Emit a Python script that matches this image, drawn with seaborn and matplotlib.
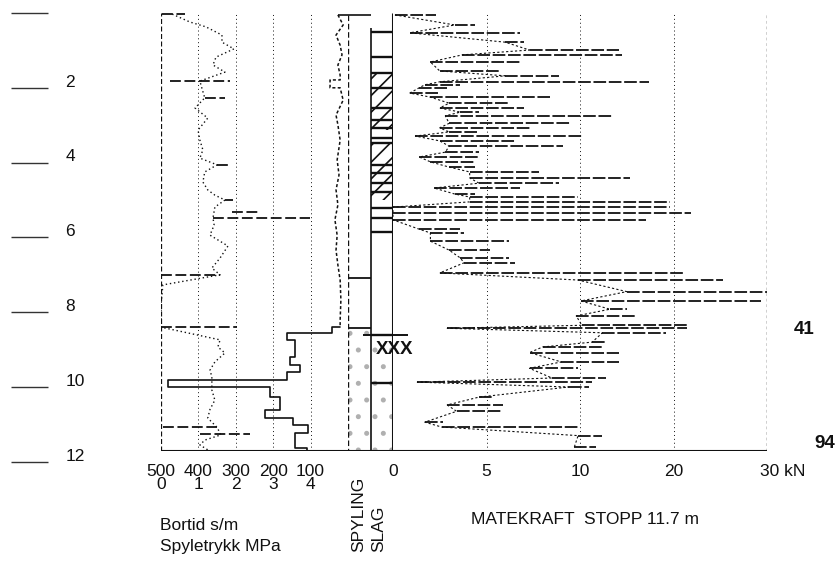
import numpy as np
import matplotlib
matplotlib.use("Agg")
import matplotlib.pyplot as plt
from matplotlib.patches import Rectangle
import seaborn as sns

# --- data read off the sounding log ---
# spyletrykk (MPa), base trace
sp_depth = [0.03, 0.24, 0.37, 0.59, 0.78, 0.96, 1.18, 1.39, 1.58, 1.82, 2.00, 2.27, 2.54, 2.81,
            3.13, 3.40, 3.66, 3.88, 4.06, 4.25, 4.52, 4.73, 4.87, 5.00, 5.19, 5.48, 5.67, 5.94,
            6.23, 6.55, 6.82, 7.00, 7.27, 7.49, 7.80, 8.40, 8.74, 8.93, 9.09, 9.33, 9.55, 9.73,
            10.08, 10.35, 10.60, 10.83, 11.08, 11.28, 11.42, 11.55, 11.68]
sp_value = [0.30, 0.77, 1.20, 1.63, 1.63, 1.95, 1.47, 1.39, 1.71, 1.04, 1.09, 1.17, 0.91, 1.25,
            0.99, 1.04, 1.12, 1.04, 1.50, 1.17, 1.12, 1.25, 1.44, 1.71, 1.44, 1.39, 1.42, 1.31,
            1.79, 1.58, 1.36, 1.58, 0.05, 0.03, 0.00, 0.00, 1.58, 1.52, 1.71, 1.44, 1.31, 1.36,
            1.36, 1.44, 1.31, 1.25, 1.50, 1.60, 1.17, 1.04, 1.25]
# spyletrykk spikes
sp_spike_depth = [0.03, 1.82, 2.27, 4.06, 5.00, 5.32, 5.48, 7.00, 8.40, 11.08, 11.26]
sp_spike_left = [0.03, 0.24, 1.17, 1.50, 1.71, 1.90, 1.39, 0.00, 0.00, 0.05, 1.05]
sp_spike_right = [0.64, 1.84, 1.71, 1.79, 1.92, 2.65, 3.98, 1.58, 2.03, 1.50, 2.39]

# bortid (s/m) in soil
bt_depth = [0.05, 0.32, 0.59, 0.86, 1.12, 1.39, 1.66, 1.79, 1.79, 2.00, 2.00, 2.33, 2.73, 2.99,
            3.40, 3.93, 4.33, 4.73, 5.13, 5.53, 5.94, 6.34, 6.74, 7.14, 7.67, 8.21, 8.39]
bt_value = [27, 13, 32, 21, 16, 27, 21, 21, 48, 48, 21, 13, 32, 27,
            21, 29, 24, 32, 27, 35, 29, 32, 27, 21, 19, 21, 21]
# bortid steps in rock (interval tops, values)
bt_step_top = [8.39, 8.55, 8.74, 9.20, 9.41, 9.60, 9.81, 9.99, 10.27, 10.62, 10.83, 11.02, 11.23, 11.63]
bt_step_value = [43, 163, 141, 155, 128, 163, 480, 208, 181, 221, 147, 107, 141, 109]
stop_depth = 11.7

# matekraft (kN): depth, trace value and spike end
mf_depth = [0.05, 0.32, 0.53, 0.78, 0.99, 1.12, 1.31, 1.55, 1.68, 1.84, 1.92, 2.00, 2.14, 2.25,
            2.41, 2.54, 2.65, 2.75, 2.95, 3.07, 3.18, 3.29, 3.42, 3.56, 3.72, 3.85, 3.98, 4.12,
            4.25, 4.41, 4.55, 4.68, 4.84, 4.92, 5.05, 5.19, 5.35, 5.53, 5.78, 5.88, 6.10, 6.34,
            6.55, 6.68, 6.95, 7.14, 7.45, 7.70, 7.92, 8.10, 8.35, 8.43, 8.55, 8.80, 8.93, 9.08,
            9.33, 9.50, 9.76, 9.87, 10.00, 10.27, 10.48, 10.65, 10.94, 11.07, 11.30, 11.60]
mf_left = [0.1, 3.3, 0.9, 6.0, 7.3, 3.7, 2.0, 2.5, 6.0, 2.5, 1.7, 1.4, 0.9, 2.0,
           3.0, 2.5, 3.6, 2.8, 3.0, 2.5, 3.0, 1.2, 2.5, 3.0, 2.8, 1.4, 2.0, 3.0,
           4.1, 4.1, 4.6, 2.2, 3.3, 4.1, 4.1, 0.0, 0.0, 0.0, 1.4, 2.0, 2.0, 3.0,
           3.6, 3.8, 2.5, 9.9, 15.0, 10.1, 13.2, 9.8, 10.2, 2.9, 12.4, 11.3, 8.0, 7.3,
           9.0, 7.3, 8.5, 1.3, 9.4, 4.6, 2.9, 3.4, 1.7, 2.6, 9.9, 9.7]
mf_right = [2.3, 4.4, 6.8, 7.0, 14.2, 14.5, 6.8, 5.7, 8.9, 17.4, 3.6, 3.0, 2.5, 8.4,
            6.2, 7.0, 4.6, 13.4, 9.5, 7.3, 4.6, 10.2, 6.5, 9.1, 4.6, 4.6, 4.4, 4.4,
            7.8, 15.3, 8.9, 6.8, 4.4, 9.9, 19.6, 19.6, 21.9, 17.1, 3.6, 3.8, 6.2, 5.2,
            6.2, 6.5, 21.0, 25.3, 30.0, 29.4, 15.0, 16.0, 21.4, 21.4, 19.2, 12.8, 12.4, 14.2,
            14.2, 9.9, 12.8, 11.3, 11.0, 5.3, 5.9, 5.9, 2.7, 9.9, 12.4, 11.7]

# spyling / slag columns
spyling_lines = [7.09, 8.42]
spyling_fill_top = 8.42
slag_lines = [0.51, 1.18, 1.60, 2.00, 2.54, 2.86, 3.07, 3.34, 3.48, 4.06, 4.28, 4.55, 4.79,
              5.21, 5.48, 5.86, 8.61, 9.89]
slag_hatch = [(1.60, 3.13), (3.48, 5.00)]
slag_fill_top = 8.61
rock_depth = 8.61

depth_ticks = [0, 2, 4, 6, 8, 10, 12]
sp_ticks = [0, 1, 2, 3, 4]
sp_ticklabels = ['500\n0', '400\n1', '300\n2', '200\n3', '100\n4']
mf_ticks = [0, 5, 10, 20]

# --- style ---
sns.set_theme(style="white")
plt.rcParams['font.family'] = ['Liberation Sans', 'DejaVu Sans']
plt.rcParams['hatch.linewidth'] = 1.2
INK = '#111111'
FS = 12.5

W, H = 840, 564
fig = plt.figure(figsize=(8.4, 5.64), dpi=100)


def px_axes(x0, x1, y0, y1):
    return fig.add_axes([x0 / W, 1 - y1 / H, (x1 - x0) / W, (y1 - y0) / H])


PX_PER_M = 37.4
Y0 = 13
Y_STOP = Y0 + stop_depth * PX_PER_M


def mf_fwd(v):
    v = np.asarray(v, float)
    return np.where(v <= 10, v, 10 + (v - 10) * 0.5)


def mf_inv(u):
    u = np.asarray(u, float)
    return np.where(u <= 10, u, 10 + (u - 10) * 2.0)


ax_sp = px_axes(161, 348, Y0, Y_STOP)
ax_bt = px_axes(161, 348, Y0, Y_STOP)
ax_col = px_axes(348, 393, Y0, Y_STOP)
ax_mf = px_axes(393, 767, Y0, Y_STOP)
ax_dep = px_axes(11, 48, Y0, Y0 + 12 * PX_PER_M)

for ax in [ax_sp, ax_bt, ax_col, ax_mf, ax_dep]:
    ax.set_ylim(stop_depth, 0)
    for s in ax.spines.values():
        s.set_visible(False)
    ax.set_facecolor('none')
    ax.tick_params(length=0)
ax_dep.set_ylim(12, 0)

ax_sp.set_xlim(0, 5)
ax_bt.set_xlim(500, 0)
ax_col.set_xlim(0, 2)
ax_mf.set_xscale('function', functions=(mf_fwd, mf_inv))
ax_mf.set_xlim(0, 30)
ax_dep.set_xlim(0, 1)

# depth scale at far left
ax_dep.hlines(depth_ticks, 0, 1, color='#333333', lw=1.0, clip_on=False)
for d in depth_ticks[1:]:
    ax_dep.text(1.47, d - 0.03, str(d), ha='left', va='baseline', fontsize=FS, color=INK,
                clip_on=False)
ax_dep.set_xticks([])
ax_dep.set_yticks([])

# left panel: spyletrykk + bortid
ax_sp.axvline(0, color=INK, lw=0.9, ls=(0, (4, 2)))
for g in [1, 2, 3, 4]:
    ax_sp.axvline(g, color=INK, lw=0.7, ls=(0, (1, 3)))
ax_sp.axhline(stop_depth, color=INK, lw=1.5)
sns.lineplot(x=sp_value, y=sp_depth, sort=False, estimator=None, ax=ax_sp,
             color=INK, lw=1.0, linestyle=(0, (1, 2)))
ax_sp.hlines(sp_spike_depth, sp_spike_left, sp_spike_right, color=INK, lw=1.3,
             linestyles=(0, (6, 2)))
ax_sp.set_xticks(sp_ticks)
ax_sp.set_xticklabels(sp_ticklabels, fontsize=FS, color=INK, linespacing=0.78)
ax_sp.tick_params(axis='x', pad=10)
ax_sp.set_yticks([])

# bortid: dotted trace in soil, steps in rock
sns.lineplot(x=bt_value, y=bt_depth, sort=False, estimator=None, ax=ax_bt,
             color=INK, lw=1.1, linestyle=(0, (2, 1.5)))
ax_bt.hlines(bt_depth[0], bt_value[0], 0, color=INK, lw=1.2)
step_x = [bt_value[-1]]
step_y = [bt_depth[-1]]
step_bottoms = bt_step_top[1:] + [stop_depth]
for top, bot, v in zip(bt_step_top, step_bottoms, bt_step_value):
    step_x += [v, v]
    step_y += [top, bot]
sns.lineplot(x=step_x, y=step_y, sort=False, estimator=None, ax=ax_bt, color=INK, lw=1.2)
ax_bt.set_xticks([])
ax_bt.set_yticks([])

# spyling / slag columns
ax_col.vlines(0, 0.05, stop_depth, color=INK, lw=1.0, linestyles=(0, (4, 2)))
ax_col.vlines(1, 0.4, stop_depth, color=INK, lw=1.2)
ax_col.vlines(2, 0.0, stop_depth, color=INK, lw=2.2)
ax_col.hlines(0.05, 0, 1, color=INK, lw=1.2)
ax_col.hlines(spyling_lines, 0, 1, color=INK, lw=1.3)
ax_col.hlines(slag_lines, 1, 2, color=INK, lw=1.7)
ax_col.hlines(rock_depth, 0.67, 2.65, color=INK, lw=1.4, clip_on=False)
for top, bot in slag_hatch:
    ax_col.add_patch(Rectangle((1, top), 1, bot - top, facecolor='none', edgecolor=INK,
                               hatch='//', lw=0))
ax_col.add_patch(Rectangle((0, spyling_fill_top), 1, stop_depth - spyling_fill_top,
                           facecolor='none', edgecolor='#b0b0b0', hatch='.', lw=0))
ax_col.add_patch(Rectangle((1, slag_fill_top), 1, stop_depth - slag_fill_top,
                           facecolor='none', edgecolor='#b0b0b0', hatch='.', lw=0))
ax_col.axhline(stop_depth, color=INK, lw=1.5)
ax_col.text(1.22, 9.0, 'XXX', ha='left', va='center', fontsize=13.5, fontweight='bold',
            color=INK, clip_on=False, zorder=5)
ax_col.set_xticks([])
ax_col.set_yticks([])

# matekraft panel
for g in [5, 10, 20]:
    ax_mf.axvline(g, color=INK, lw=0.7, ls=(0, (1, 3)))
ax_mf.axvline(30, color=INK, lw=1.0, ls=(0, (2, 2)))
ax_mf.axhline(stop_depth, color=INK, lw=1.5)
sns.lineplot(x=mf_left, y=mf_depth, sort=False, estimator=None, ax=ax_mf,
             color=INK, lw=0.8, linestyle=(0, (2, 2)))
ax_mf.hlines(mf_depth, mf_left, mf_right, color=INK, lw=1.3, linestyles=(0, (7, 1.5)))
ax_mf.set_xticks(mf_ticks)
ax_mf.set_xticklabels([str(t) for t in mf_ticks], fontsize=FS, color=INK)
ax_mf.tick_params(axis='x', pad=10)
ax_mf.set_yticks([])
ax_mf.annotate('30 kN', xy=(30, 0), xycoords=('data', 'axes fraction'),
               xytext=(-5, -10), textcoords='offset points', ha='left', va='top',
               fontsize=FS, color=INK)

for ax in [ax_sp, ax_bt, ax_col, ax_mf]:
    ax.set_xlabel('')
    ax.set_ylabel('')

# labels
fig.text(160 / W, 1 - 526 / H, 'Bortid s/m', ha='left', va='center', fontsize=FS, color=INK)
fig.text(160 / W, 1 - 547 / H, 'Spyletrykk MPa', ha='left', va='center', fontsize=FS, color=INK)
fig.text(359 / W, 1 - 552 / H, 'SPYLING', rotation=90, ha='center', va='bottom',
         fontsize=FS, color=INK)
fig.text(379 / W, 1 - 552 / H, 'SLAG', rotation=90, ha='center', va='bottom',
         fontsize=FS, color=INK)
fig.text(585 / W, 1 - 520 / H, 'MATEKRAFT  STOPP 11.7 m', ha='center', va='center',
         fontsize=FS, color=INK)
fig.text(804 / W, 1 - 330 / H, '41', ha='center', va='center', fontsize=13.5,
         fontweight='bold', color=INK)
fig.text(825 / W, 1 - 444 / H, '94', ha='center', va='center', fontsize=13.5,
         fontweight='bold', color=INK)

fig.savefig('out.png', dpi=100, facecolor='white')
